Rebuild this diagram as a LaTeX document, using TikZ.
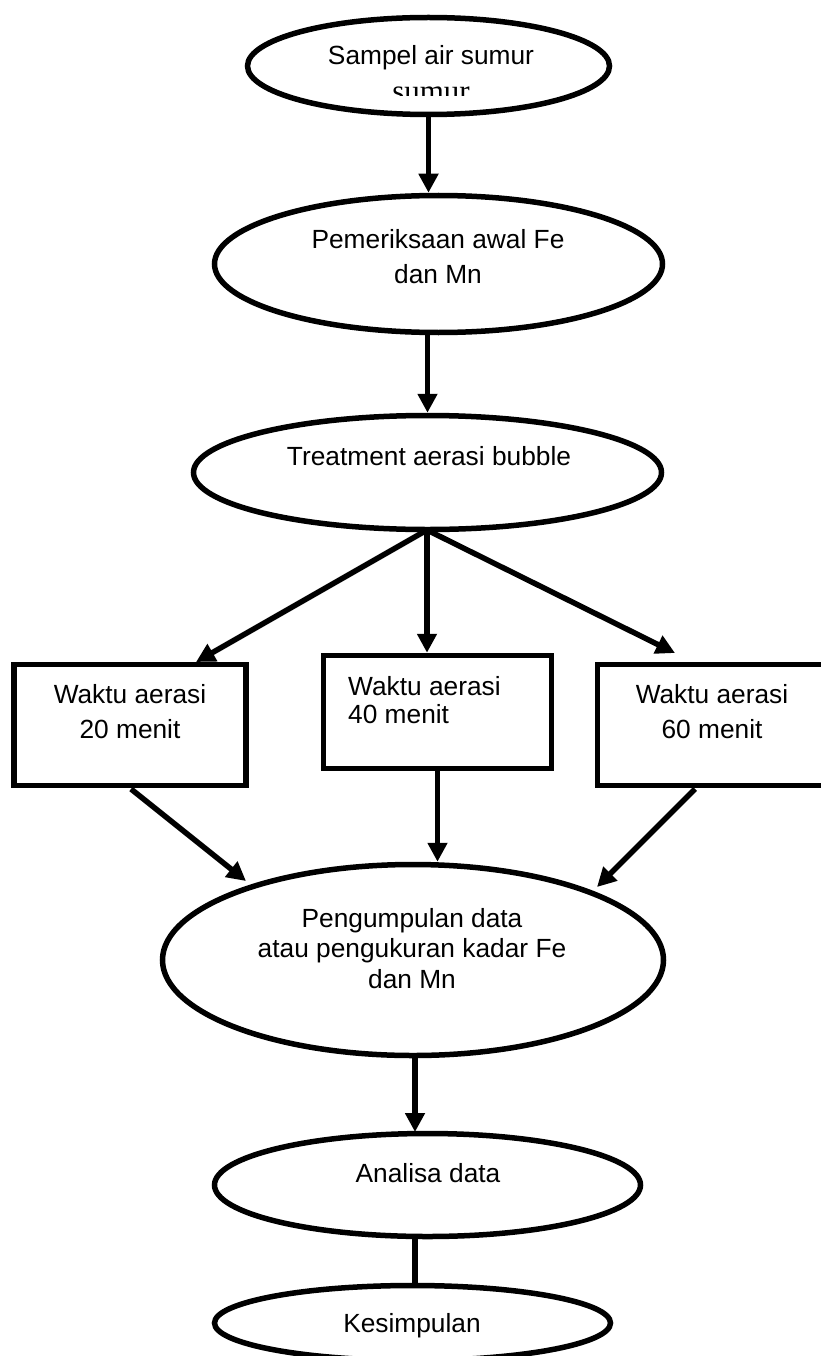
\documentclass[tikz,border=0pt]{standalone}
\usepackage{fontspec}
\setmainfont{Liberation Sans}
\newfontfamily\serifx{Liberation Serif}
\usetikzlibrary{shapes.geometric,arrows.meta}
\begin{document}
\begin{tikzpicture}[x=1pt,y=-1pt,
  oval/.style={draw,ellipse,line width=5.5pt,inner sep=0pt,fill=white},
  boxx/.style={draw,rectangle,line width=5.5pt,inner sep=0pt,fill=white},
  lbl/.style={inner sep=0pt,anchor=base,font=\fontsize{26.3}{31}\selectfont},
  arr/.style={line width=5.5pt,-{Triangle[length=19pt,width=19pt]}},
  plain/.style={line width=5.5pt}
]
\useasboundingbox[fill=white] (0,0) rectangle (821,1356);

% shapes
\node[oval,minimum width=362pt,minimum height=97pt] (e1) at (428.5,66) {};
\node[oval,minimum width=448pt,minimum height=137pt] (e2) at (438.5,264) {};
\node[oval,minimum width=468pt,minimum height=114pt] (e3) at (427.5,472.5) {};
\node[boxx,minimum width=232pt,minimum height=121pt] (b1) at (130,725) {};
\node[boxx,minimum width=228pt,minimum height=113pt] (b2) at (437.5,712) {};
\node[boxx,minimum width=232pt,minimum height=121pt] (b3) at (713.5,725) {};
\node[oval,minimum width=501pt,minimum height=191pt] (e4) at (413,960) {};
\node[oval,minimum width=426pt,minimum height=103pt] (e5) at (427.5,1185) {};
\node[oval,minimum width=396pt,minimum height=75pt] (e6) at (412.5,1323) {};

% texts
\node[lbl] (t1) at (431,65) {Sampel air sumur};
\begin{scope}
  \clip (375,80) rectangle (490,96);
  \node[inner sep=0pt,anchor=base,font=\serifx\fontsize{31}{31}\selectfont] (t1b) at (431,102) {sumur};
\end{scope}
\node[lbl] (t2a) at (438,248) {Pemeriksaan awal Fe};
\node[lbl] (t2b) at (438,283) {dan Mn};
\node[lbl] (t3) at (429,465) {Treatment aerasi bubble};
\node[lbl] (tb1a) at (130,703) {Waktu aerasi};
\node[lbl] (tb1b) at (130,738) {20 menit};
\node[lbl,anchor=base west] (tb2a) at (348,695) {Waktu aerasi};
\node[lbl,anchor=base west] (tb2b) at (348,723) {40 menit};
\node[lbl] (tb3a) at (712,703) {Waktu aerasi};
\node[lbl] (tb3b) at (712,738) {60 menit};
\node[lbl] (t4a) at (412,927) {Pengumpulan data};
\node[lbl] (t4b) at (412,957) {atau pengukuran kadar Fe};
\node[lbl] (t4c) at (412,988) {dan Mn};
\node[lbl] (t5) at (428,1182) {Analisa data};
\node[lbl] (t6) at (412,1332) {Kesimpulan};

% connector points
\coordinate (br) at (427,530);
\coordinate (l1) at (196,662);
\coordinate (r1) at (675,653);
\coordinate (ls) at (131,789);
\coordinate (lt) at (246,881);
\coordinate (rs) at (695,789);
\coordinate (rt) at (597,887);
\coordinate (d1) at (415,1056);
\coordinate (d2) at (415,1132);
\coordinate (m1) at (415,1237);
\coordinate (m2) at (415,1285);

% connectors
\draw[arr] (e1.south) -- (e1.south |- e2.north);
\draw[arr] (e3.north |- e2.south) -- (e3.north);
\draw[arr] (br) -- (l1);
\draw[arr] (br) -- (br |- b2.north);
\draw[arr] (br) -- (r1);
\draw[arr] (ls) -- (lt);
\draw[arr] (b2.south) -- (b2.south |- e4.north);
\draw[arr] (rs) -- (rt);
\draw[arr] (d1) -- (d2);
\draw[plain] (m1) -- (m2);
\end{tikzpicture}
\end{document}
